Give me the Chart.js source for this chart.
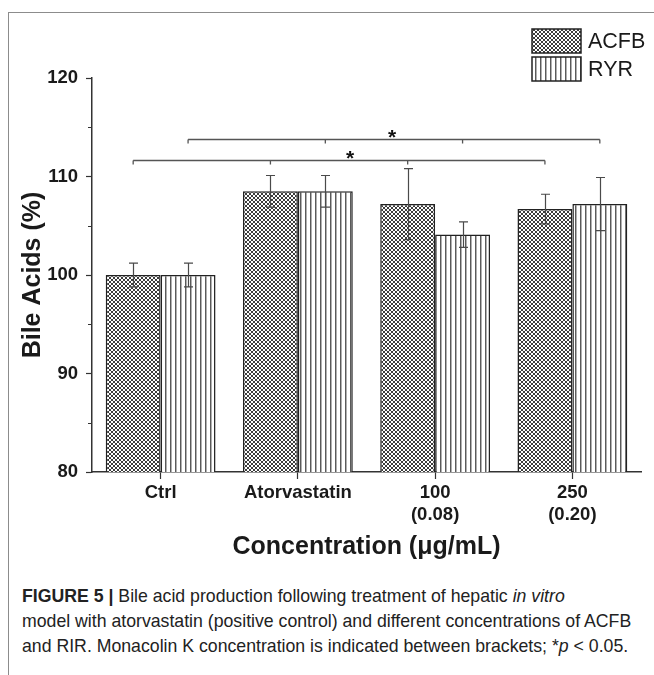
<!DOCTYPE html>
<html>
<head>
<meta charset="utf-8">
<script src="https://cdn.jsdelivr.net/npm/chart.js@4.4.0/dist/chart.umd.min.js"></script>
<style>
  html, body { margin: 0; padding: 0; background: #fff; }
  body { width: 654px; height: 675px; position: relative; overflow: hidden; }
  #frame { position: absolute; left: 8px; top: 12px; width: 646px; height: 663px;
           border-top: 1px solid #8c8c8c; border-left: 1px solid #8c8c8c; box-sizing: border-box; }
  #wrap { position: absolute; left: 0; top: 0; width: 654px; height: 570px; }
  #caption { position: absolute; left: 22px; top: 584px; width: 630px;
             font-family: "Liberation Sans", Arial, sans-serif; font-size: 17.7px; line-height: 25px;
             color: #222; white-space: nowrap; }
  #caption b { font-weight: bold; }
</style>
</head>
<body>
<div id="frame"></div>
<div id="wrap"><canvas id="c" width="654" height="570"></canvas></div>
<div id="caption"><b>FIGURE 5 |</b> Bile acid production following treatment of hepatic <i>in vitro</i><br>model with atorvastatin (positive control) and different concentrations of ACFB<br>and RIR. Monacolin K concentration is indicated between brackets; *<i>p</i> &lt; 0.05.</div>
<script>
// ---- data ----
const categories = [['Ctrl'], ['Atorvastatin'], ['100', '(0.08)'], ['250', '(0.20)']];
const seriesNames = ['ACFB', 'RYR'];
const acfbValues = [100, 108.5, 107.2, 106.7];
const acfbErrors = [1.2, 1.6, 3.6, 1.5];
const ryrValues = [100, 108.5, 104.1, 107.2];
const ryrErrors = [1.2, 1.6, 1.3, 2.7];
const yMin = 80, yMax = 120, yStep = 10;
const yMinorTicks = [85, 95, 105, 115];
// significance brackets: which series they join, level (in %), star position (category index)
const bracketSeries = [1, 0];
const bracketLevels = [113.8, 111.65];
const bracketStars = [1.686, 1.38];
const yTitle = 'Bile Acids (%)';
const xTitle = 'Concentration (\u03bcg/mL)';

const FONT = "'Liberation Sans', Arial, sans-serif";
const INK = '#1a1a1a';

function crossPattern() {
  const c = document.createElement('canvas');
  c.width = 4; c.height = 4;
  const g = c.getContext('2d');
  g.fillStyle = '#ffffff'; g.fillRect(0, 0, 4, 4);
  g.fillStyle = '#3c3c3c';
  [[0,0],[1,1],[2,2],[3,3],[3,0],[2,1],[1,2],[0,3]].forEach(p => g.fillRect(p[0], p[1], 1, 1));
  return g.createPattern(c, 'repeat');
}
function vlinePattern() {
  const c = document.createElement('canvas');
  c.width = 5; c.height = 4;
  const g = c.getContext('2d');
  g.fillStyle = '#ffffff'; g.fillRect(0, 0, 5, 4);
  g.fillStyle = '#5a5a5a'; g.fillRect(0, 0, 1, 4);
  g.fillStyle = '#b0b0b0'; g.fillRect(1, 0, 1, 4);
  return g.createPattern(c, 'repeat');
}
const ctx0 = document.getElementById('c').getContext('2d');
const patterns = [crossPattern(), vlinePattern()];
const errorsBySeries = [acfbErrors, ryrErrors];

const overlay = {
  id: 'overlay',
  afterDatasetsDraw(chart) {
    const ctx = chart.ctx, ys = chart.scales.y, xs = chart.scales.x;
    ctx.save();
    // error bars
    ctx.strokeStyle = '#4a4a4a'; ctx.lineWidth = 1.2;
    errorsBySeries.forEach((errs, di) => {
      const meta = chart.getDatasetMeta(di);
      meta.data.forEach((bar, i) => {
        const v = chart.data.datasets[di].data[i];
        const t = ys.getPixelForValue(v + errs[i]);
        const b = ys.getPixelForValue(v - errs[i]);
        const x = Math.round(bar.x) + 0.5;
        ctx.beginPath();
        ctx.moveTo(x, t); ctx.lineTo(x, b);
        ctx.moveTo(x - 4.5, t); ctx.lineTo(x + 4.5, t);
        ctx.moveTo(x - 4.5, b); ctx.lineTo(x + 4.5, b);
        ctx.stroke();
      });
    });
    // significance brackets
    ctx.strokeStyle = '#555'; ctx.lineWidth = 1.3;
    bracketSeries.forEach((si, k) => {
      const meta = chart.getDatasetMeta(si);
      const y = Math.round(ys.getPixelForValue(bracketLevels[k])) + 0.5;
      const xsPos = meta.data.map(b => b.x);
      ctx.beginPath();
      ctx.moveTo(xsPos[0], y); ctx.lineTo(xsPos[xsPos.length - 1], y);
      xsPos.forEach(x => { ctx.moveTo(x, y); ctx.lineTo(x, y + 4); });
      ctx.stroke();
      const sx = xs.getPixelForValue(bracketStars[k]);
      ctx.fillStyle = '#111';
      ctx.font = 'bold 21px ' + FONT;
      ctx.textAlign = 'center'; ctx.textBaseline = 'alphabetic';
      ctx.fillText('*', sx, y + 4);
    });
    ctx.restore();
  },
  afterDraw(chart) {
    const ctx = chart.ctx, ys = chart.scales.y, area = chart.chartArea;
    ctx.save();
    // minor y ticks
    ctx.strokeStyle = '#333'; ctx.lineWidth = 1;
    yMinorTicks.forEach(v => {
      const y = Math.round(ys.getPixelForValue(v)) + 0.5;
      ctx.beginPath(); ctx.moveTo(area.left - 4, y); ctx.lineTo(area.left, y); ctx.stroke();
    });
    // legend
    const lx = 532, lw = 49, lh = 24, tops = [29, 57];
    seriesNames.forEach((name, i) => {
      ctx.fillStyle = patterns[i];
      ctx.fillRect(lx, tops[i], lw, lh);
      ctx.strokeStyle = '#222'; ctx.lineWidth = 1.5;
      ctx.strokeRect(lx, tops[i], lw, lh);
      ctx.fillStyle = INK;
      ctx.font = '21.5px ' + FONT;
      ctx.textAlign = 'left'; ctx.textBaseline = 'middle';
      ctx.fillText(name, lx + 56, tops[i] + lh / 2 + 1);
    });
    ctx.restore();
  }
};

new Chart(ctx0, {
  type: 'bar',
  data: {
    labels: categories,
    datasets: [
      { label: seriesNames[0], data: acfbValues, backgroundColor: patterns[0],
        borderColor: '#222', borderWidth: 1.5, categoryPercentage: 0.8, barPercentage: 1.0 },
      { label: seriesNames[1], data: ryrValues, backgroundColor: patterns[1],
        borderColor: '#222', borderWidth: 1.5, categoryPercentage: 0.8, barPercentage: 1.0 }
    ]
  },
  options: {
    responsive: false,
    animation: false,
    events: [],
    layout: { padding: { left: 8, right: 13, top: 78, bottom: 0 } },
    plugins: { legend: { display: false }, tooltip: { enabled: false } },
    scales: {
      x: {
        grid: { display: true, drawOnChartArea: false, drawTicks: true, tickLength: 7, offset: false,
                color: '#333', tickColor: '#333', tickWidth: 1.2 },
        border: { display: true, color: '#333', width: 1.5 },
        ticks: { color: INK, padding: 3, font: { family: FONT, size: 18.5, weight: 'bold', lineHeight: 1.2 },
                 maxRotation: 0, autoSkip: false },
        title: { display: true, text: xTitle, color: INK,
                 font: { family: FONT, size: 25, weight: 'bold', lineHeight: 1.2 },
                 padding: { top: 0, bottom: 8 } },
        afterFit(scale) { scale.height = 98; }
      },
      y: {
        min: yMin, max: yMax,
        grid: { display: true, drawOnChartArea: false, drawTicks: true, tickLength: 6,
                color: '#333', tickColor: '#333', tickWidth: 1.2 },
        border: { display: true, color: '#333', width: 1.5 },
        ticks: { stepSize: yStep, color: INK, padding: 8,
                 font: { family: FONT, size: 18.5, weight: 'bold' } },
        title: { display: true, text: yTitle, color: INK,
                 font: { family: FONT, size: 25, weight: 'bold', lineHeight: 1.2 },
                 padding: { top: 10, bottom: 0 } },
        afterFit(scale) { scale.width = 84; }
      }
    }
  },
  plugins: [overlay]
});
</script>
</body>
</html>
